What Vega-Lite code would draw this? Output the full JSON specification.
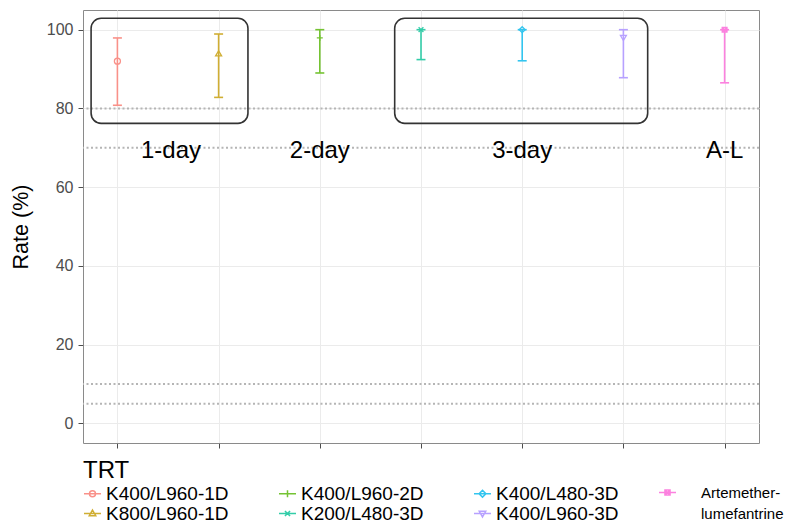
{
  "$schema": "https://vega.github.io/schema/vega-lite/v6.json",
  "width": 676,
  "height": 433,
  "autosize": {"type": "none"},
  "padding": {"left": 83, "top": 10, "right": 31, "bottom": 81},
  "config": {
    "font": "Liberation Sans",
    "view": {"stroke": "#8a8a8a", "strokeWidth": 1},
    "axis": {"gridColor": "#ebebeb", "gridWidth": 1, "domain": false, "tickColor": "#4d4d4d", "tickSize": 5, "labelColor": "#4d4d4d", "labelFontSize": 16, "titleFontWeight": "normal", "titleColor": "black"},
    "style": {"guide-label": {"lineHeight": 21}}
  },
  "datasets": {
    "trt": [
      {"trt": "K400/L960-1D", "idx": 1, "rate": 92, "lo": 80.8, "hi": 97.9},
      {"trt": "K800/L960-1D", "idx": 2, "rate": 94, "lo": 82.8, "hi": 98.9},
      {"trt": "K400/L960-2D", "idx": 3, "rate": 97.9, "lo": 89, "hi": 100},
      {"trt": "K200/L480-3D", "idx": 4, "rate": 100, "lo": 92.4, "hi": 100},
      {"trt": "K400/L480-3D", "idx": 5, "rate": 100, "lo": 92.1, "hi": 100},
      {"trt": "K400/L960-3D", "idx": 6, "rate": 97.9, "lo": 87.8, "hi": 100},
      {"trt": "Artemether-lumefantrine", "idx": 7, "rate": 100, "lo": 86.5, "hi": 100}
    ],
    "refs": [{"y": 80}, {"y": 70}, {"y": 10}, {"y": 5}],
    "boxes": [
      {"x1": 0.74, "x2": 2.29, "y1": 76.2, "y2": 102.9},
      {"x1": 3.74, "x2": 6.24, "y1": 76.2, "y2": 102.9}
    ],
    "labels": [
      {"lab": "1-day", "x": 1.53, "y": 67.5},
      {"lab": "2-day", "x": 3, "y": 67.5},
      {"lab": "3-day", "x": 5, "y": 67.5},
      {"lab": "A-L", "x": 7, "y": 67.5}
    ]
  },
  "resolve": {"scale": {"shape": "independent"}, "legend": {"color": "independent", "shape": "independent"}},
  "layer": [
    {
      "data": {"name": "refs"},
      "mark": {"type": "rule", "color": "#b5b5b5", "strokeWidth": 2, "strokeDash": [2, 2.5]},
      "encoding": {
        "y": {"field": "y", "type": "quantitative", "scale": {"domain": [-5, 105], "nice": false, "zero": false}, "title": "Rate (%)", "axis": {"values": [0, 20, 40, 60, 80, 100], "titleFontSize": 21.5, "titlePadding": 14, "labelPadding": 5}}
      }
    },
    {
      "data": {"name": "boxes"},
      "mark": {"type": "rect", "fillOpacity": 0, "fill": "white", "stroke": "#333333", "strokeWidth": 1.6, "cornerRadius": 10},
      "encoding": {
        "x": {"field": "x1", "type": "quantitative", "scale": {"domain": [0.66, 7.34], "nice": false, "zero": false}, "title": null, "axis": {"values": [1, 2, 3, 4, 5, 6, 7], "labels": false}},
        "x2": {"field": "x2"},
        "y": {"field": "y1", "type": "quantitative", "title": "Rate (%)"},
        "y2": {"field": "y2"}
      }
    },
    {
      "data": {"name": "labels"},
      "mark": {"type": "text", "fontSize": 24, "baseline": "alphabetic", "align": "center", "color": "black"},
      "encoding": {
        "x": {"field": "x", "type": "quantitative", "title": null},
        "y": {"field": "y", "type": "quantitative", "title": "Rate (%)"},
        "text": {"field": "lab"}
      }
    },
    {
      "data": {"name": "trt"},
      "mark": {"type": "rule", "strokeWidth": 1.6},
      "encoding": {
        "x": {"field": "idx", "type": "quantitative", "title": null},
        "y": {"field": "lo", "type": "quantitative", "title": "Rate (%)"},
        "y2": {"field": "hi"},
        "color": {"field": "trt", "type": "nominal", "legend": null}
      }
    },
    {
      "data": {"name": "trt"},
      "mark": {"type": "tick", "orient": "horizontal", "size": 9, "thickness": 1.6, "opacity": 1},
      "encoding": {
        "x": {"field": "idx", "type": "quantitative", "title": null},
        "y": {"field": "lo", "type": "quantitative", "title": "Rate (%)"},
        "color": {"field": "trt", "type": "nominal", "legend": null}
      }
    },
    {
      "data": {"name": "trt"},
      "mark": {"type": "tick", "orient": "horizontal", "size": 9, "thickness": 1.6, "opacity": 1},
      "encoding": {
        "x": {"field": "idx", "type": "quantitative", "title": null},
        "y": {"field": "hi", "type": "quantitative", "title": "Rate (%)"},
        "color": {"field": "trt", "type": "nominal", "legend": null}
      }
    },
    {
      "data": {"name": "trt"},
      "mark": {"type": "point", "filled": false, "size": 36, "strokeWidth": 1.3, "opacity": 1},
      "encoding": {
        "x": {"field": "idx", "type": "quantitative", "title": null},
        "y": {"field": "rate", "type": "quantitative", "title": "Rate (%)"},
        "color": {
          "field": "trt", "type": "nominal", "legend": null,
          "scale": {
            "domain": ["K400/L960-1D", "K800/L960-1D", "K400/L960-2D", "K200/L480-3D", "K400/L480-3D", "K400/L960-3D", "Artemether-lumefantrine"],
            "range": ["#F99189", "#D0AE33", "#75C333", "#33CDA9", "#33C5EF", "#B7A1FF", "#FC81DF"]
          }
        },
        "shape": {
          "field": "trt", "type": "nominal", "legend": null,
          "scale": {
            "domain": ["K400/L960-1D", "K800/L960-1D", "K400/L960-2D", "K200/L480-3D", "K400/L480-3D", "K400/L960-3D", "Artemether-lumefantrine"],
            "range": ["circle", "triangle-up", "M-1,0L1,0M0,-1L0,1", "M-0.8,-0.8L0.8,0.8M-0.8,0.8L0.8,-0.8", "diamond", "triangle-down", "M-0.8,-0.8L0.8,-0.8L0.8,0.8L-0.8,0.8ZM-0.8,-0.8L0.8,0.8M-0.8,0.8L0.8,-0.8"]
          }
        }
      }
    },
    {
      "data": {"name": "trt"},
      "mark": {"type": "point", "filled": false, "size": 36, "strokeWidth": 1.5, "opacity": 0},
      "encoding": {
        "x": {"field": "idx", "type": "quantitative", "title": null},
        "y": {"field": "rate", "type": "quantitative", "title": "Rate (%)"},
        "color": {
          "field": "trt", "type": "nominal",
          "legend": {
            "title": "TRT",
            "orient": "none", "legendX": 0, "legendY": 449,
            "columns": 3, "gridAlign": "all", "columnPadding": 47, "rowPadding": -7,
            "values": ["K400/L960-1D", "K800/L960-1D", "K400/L960-2D", "K200/L480-3D", "K400/L480-3D", "K400/L960-3D"],
            "symbolSize": 289, "symbolStrokeWidth": 1.5, "symbolFillColor": "transparent", "symbolOpacity": 1,
            "labelFontSize": 19, "labelColor": "black", "labelOffset": 4,
            "titleFontSize": 24, "titleFontWeight": "normal", "titleColor": "black", "titlePadding": 1, "padding": 0
          }
        },
        "shape": {
          "field": "trt", "type": "nominal",
          "scale": {
            "domain": ["K400/L960-1D", "K800/L960-1D", "K400/L960-2D", "K200/L480-3D", "K400/L480-3D", "K400/L960-3D", "Artemether-lumefantrine"],
            "range": [
              "M-1,0L1,0M0.35,0A0.35,0.35 0 1,1 -0.35,0A0.35,0.35 0 1,1 0.35,0",
              "M-1,0L1,0M0,-0.4L0.38,0.26L-0.38,0.26Z",
              "M-1,0L1,0M0,-0.42L0,0.42",
              "M-1,0L1,0M-0.3,-0.3L0.3,0.3M-0.3,0.3L0.3,-0.3",
              "M-1,0L1,0M0,-0.4L0.4,0L0,0.4L-0.4,0Z",
              "M-1,0L1,0M0,0.4L0.38,-0.26L-0.38,-0.26Z",
              "M-1,0L1,0M-0.3,-0.3L0.3,-0.3L0.3,0.3L-0.3,0.3ZM-0.3,-0.3L0.3,0.3M-0.3,0.3L0.3,-0.3"
            ]
          },
          "legend": {
            "title": "TRT",
            "orient": "none", "legendX": 0, "legendY": 449,
            "columns": 3, "gridAlign": "all", "columnPadding": 47, "rowPadding": -7,
            "values": ["K400/L960-1D", "K800/L960-1D", "K400/L960-2D", "K200/L480-3D", "K400/L480-3D", "K400/L960-3D"],
            "symbolSize": 289, "symbolStrokeWidth": 1.5, "symbolFillColor": "transparent", "symbolOpacity": 1,
            "labelFontSize": 19, "labelColor": "black", "labelOffset": 4,
            "titleFontSize": 24, "titleFontWeight": "normal", "titleColor": "black", "titlePadding": 1, "padding": 0
          }
        }
      }
    },
    {
      "data": {"name": "trt"},
      "transform": [{"filter": "datum.idx == 7"}],
      "mark": {"type": "point", "filled": false, "size": 36, "strokeWidth": 1.5, "opacity": 0},
      "encoding": {
        "x": {"field": "idx", "type": "quantitative", "title": null},
        "y": {"field": "rate", "type": "quantitative", "title": "Rate (%)"},
        "shape": {
          "field": "trt", "type": "nominal",
          "scale": {
            "domain": ["Artemether-lumefantrine"],
            "range": ["M-1,0L1,0M-0.3,-0.3L0.3,-0.3L0.3,0.3L-0.3,0.3ZM-0.3,-0.3L0.3,0.3M-0.3,0.3L0.3,-0.3"]
          },
          "legend": {
            "title": null,
            "orient": "none", "legendX": 575, "legendY": 473,
            "symbolSize": 289, "labelFontSize": 15, "labelColor": "black", "labelOffset": 24, "padding": 0,
            "symbolStrokeColor": "#FC81DF", "symbolStrokeWidth": 1.5, "symbolFillColor": "transparent", "symbolOpacity": 1,
            "labelExpr": "['Artemether-', 'lumefantrine']"
          }
        }
      }
    }
  ]
}
